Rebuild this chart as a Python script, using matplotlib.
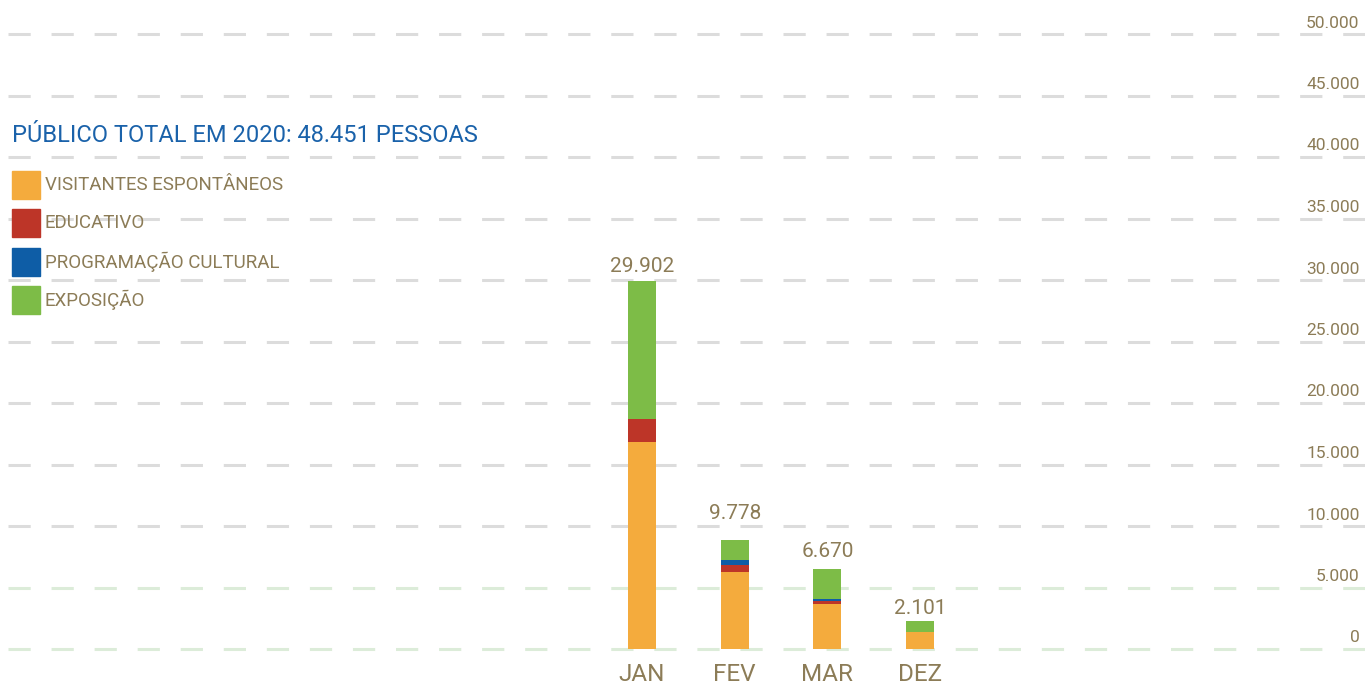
import matplotlib
matplotlib.use('Agg')
import matplotlib.pyplot as plt
import matplotlib.transforms as mtransforms
import numpy as np

# data
months = ['JAN', 'FEV', 'MAR', 'DEZ']
totals = [29902, 9778, 6670, 2101]
espontaneos = [16800, 6300, 3690, 1390]
educativo = [1880, 490, 220, 0]
programacao = [0, 410, 190, 0]
exposicao = [11222, 1640, 2380, 900]

series = [
    ('VISITANTES ESPONTÂNEOS', espontaneos, '#f4ab3d'),
    ('EDUCATIVO', educativo, '#bd3528'),
    ('PROGRAMAÇÃO CULTURAL', programacao, '#0e5da6'),
    ('EXPOSIÇÃO', exposicao, '#7dbc47'),
]
yticks = [0, 5000, 10000, 15000, 20000, 25000, 30000, 35000, 40000, 45000, 50000]
title = 'PÚBLICO TOTAL EM 2020: 48.451 PESSOAS'

BROWN = '#8c7c57'
BLUE = '#1a62aa'
plt.rcParams['font.family'] = ['Roboto', 'DejaVu Sans']
plt.rcParams['lines.scale_dashes'] = False

fig = plt.figure(figsize=(13.65, 6.86), dpi=100)
ax = fig.add_axes([8 / 1365, 37 / 686, 1 - 8 / 1365, (649 - 34) / 686])

x = np.arange(len(months))
bottom = np.zeros(len(months))
for name, vals, col in series:
    ax.bar(x, vals, width=0.30, bottom=bottom, color=col, zorder=3)
    bottom += np.array(vals)

# dashed guide lines
for t in yticks:
    col = '#dcecd9' if t <= 5000 else '#dcdcdc'
    ax.axhline(t, color=col, lw=2.2, ls=(0, (16, 15)), zorder=1, clip_on=False)

ax.set_ylim(0, 50000)
ax.set_xlim(-6.84, 7.80)
for s in ax.spines.values():
    s.set_visible(False)

ax.yaxis.tick_right()
ax.set_yticks(yticks)
ax.set_yticklabels(['0' if t == 0 else f'{t:,}'.replace(',', '.') for t in yticks])
ax.tick_params(axis='y', length=0, pad=-4, labelsize=12.5, labelcolor=BROWN)
offset = mtransforms.ScaledTranslation(0, 9 / 72, fig.dpi_scale_trans)
for lab in ax.get_yticklabels():
    lab.set_horizontalalignment('right')
    lab.set_transform(lab.get_transform() + offset)

ax.set_xticks(x)
ax.set_xticklabels(months)
ax.tick_params(axis='x', length=0, pad=10, labelsize=17.5, labelcolor=BROWN)

for xi, tot in zip(x, totals):
    ax.annotate(f'{tot:,}'.replace(',', '.'), (xi, tot), xytext=(0, 4),
                textcoords='offset points', ha='center', va='bottom',
                fontsize=15, color=BROWN, zorder=4)

# title and legend
fig.text(12 / 1365, 1 - 136 / 686, title, color=BLUE, fontsize=17,
         ha='left', va='center')
for i, (name, vals, col) in enumerate(series):
    yc = 185 + i * 38.3
    fig.patches.append(plt.Rectangle((12 / 1365, 1 - (yc + 14) / 686), 28 / 1365, 28 / 686,
                                     transform=fig.transFigure, color=col))
    fig.text(45 / 1365, 1 - yc / 686, name, color=BROWN, fontsize=13.5,
             ha='left', va='center')

fig.savefig('out.png', dpi=100)
